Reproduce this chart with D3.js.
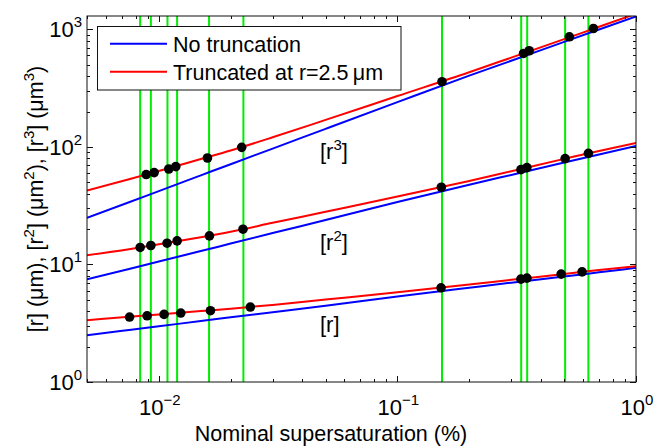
<!DOCTYPE html>
<html>
<head>
<meta charset="utf-8">
<script src="https://cdn.jsdelivr.net/npm/d3@7"></script>
<style>
  html, body { margin: 0; padding: 0; background: #fff; }
  svg { display: block; }
  text { font-family: "Liberation Sans", Arial, Helvetica, sans-serif; fill: #000; }
</style>
</head>
<body>
<svg id="chart" width="654" height="446"></svg>
<script>
// ---------------- data ----------------
const xGrid = [0.005, 0.0075, 0.01, 0.015, 0.02, 0.03, 0.05, 0.1, 0.2, 0.3, 0.5, 0.7, 1.0];
const r3Full      = [24.9, 33.8, 42.1, 57.3, 71.3, 96.8, 142.6, 240.7, 404, 541, 783, 998, 1288];
const r3Truncated = [42.5, 53.0, 62.4, 78.9, 93.2, 120.7, 169.8, 271, 432, 575, 826, 1052, 1358];
const r2Full      = [7.47, 9.16, 10.6, 13.0, 15.06, 18.5, 23.9, 34.0, 47.7, 57.8, 73.6, 86.2, 101.8];
const r2Truncated = [11.97, 13.5, 14.85, 17.06, 19.0, 22.6, 28.1, 37.8, 51.4, 62.2, 79.1, 92.5, 108.0];
const r1Full      = [2.50, 2.77, 2.98, 3.30, 3.55, 3.93, 4.46, 5.34, 6.34, 7.00, 7.89, 8.57, 9.36];
const r1Truncated = [3.36, 3.59, 3.76, 4.01, 4.20, 4.53, 5.03, 5.80, 6.74, 7.40, 8.30, 8.98, 9.68];

const greenX = [0.00835, 0.00926, 0.01087, 0.01193, 0.01624, 0.02262, 0.1538, 0.3302, 0.3499, 0.5046, 0.6316];

const r3DotX = [0.00885, 0.00956, 0.01101, 0.01178, 0.01599, 0.02225, 0.1538, 0.3377, 0.3567, 0.5259, 0.6628];
const r3DotY = [58.2, 60.5, 64.9, 68.0, 80.5, 99.2, 358.7, 624, 658, 865, 1018];
const r2DotX = [0.00835, 0.00926, 0.01083, 0.01193, 0.0163, 0.02253, 0.1528, 0.3293, 0.3489, 0.5046, 0.6316];
const r2DotY = [13.95, 14.5, 15.17, 15.87, 17.5, 19.95, 45.4, 64.1, 66.7, 79.5, 88.2];
const r1DotX = [0.00754, 0.00893, 0.01052, 0.01236, 0.01646, 0.02419, 0.1524, 0.3293, 0.3489, 0.4856, 0.5943];
const r1DotY = [3.57, 3.66, 3.76, 3.86, 4.04, 4.34, 6.33, 7.50, 7.65, 8.27, 8.65];

const xTickExps = [-2, -1, 0];
const yTickExps = [0, 1, 2, 3];
const legendLabels = ["No truncation", "Truncated at r=2.5\u2009\u03bcm"];
const xTitle = "Nominal supersaturation (%)";

// ---------------- layout ----------------
const L = 87, R = 636, T = 16, B = 382;
const svg = d3.select("#chart");
const x = d3.scaleLog().domain([0.005, 1]).range([L, R]);
const y = d3.scaleLog().domain([1, 1300]).range([B, T]);

const BLUE = "#0000ff", RED = "#ff0000", GREEN = "#00ee00";

svg.append("defs").append("clipPath").attr("id", "clip")
  .append("rect").attr("x", L).attr("y", T).attr("width", R - L).attr("height", B - T);

const plot = svg.append("g").attr("clip-path", "url(#clip)");

// green vertical lines
plot.selectAll("line.g").data(greenX).enter().append("line")
  .attr("x1", d => x(d)).attr("x2", d => x(d))
  .attr("y1", T).attr("y2", B)
  .attr("stroke", GREEN).attr("stroke-width", 2);

// curves
const line = d3.line().x(d => x(d[0])).y(d => y(d[1])).curve(d3.curveMonotoneX);
const series = [
  [r3Full, BLUE], [r3Truncated, RED],
  [r2Full, BLUE], [r2Truncated, RED],
  [r1Full, BLUE], [r1Truncated, RED]
];
series.forEach(([vals, col]) => {
  plot.append("path")
    .attr("d", line(xGrid.map((xv, i) => [xv, vals[i]])))
    .attr("fill", "none").attr("stroke", col).attr("stroke-width", 2);
});

// dots
[[r3DotX, r3DotY], [r2DotX, r2DotY], [r1DotX, r1DotY]].forEach(([xs, ys]) => {
  plot.selectAll(null).data(xs.map((xv, i) => [xv, ys[i]])).enter().append("circle")
    .attr("cx", d => x(d[0])).attr("cy", d => y(d[1])).attr("r", 4.8).attr("fill", "#000");
});

// frame
svg.append("rect").attr("x", L).attr("y", T).attr("width", R - L).attr("height", B - T)
  .attr("fill", "none").attr("stroke", "#111").attr("stroke-width", 1);

// ticks
const majLen = 6, minLen = 3;
const xTicksAll = [];
for (let e = -3; e <= 0; e++) for (let m = 1; m <= 9; m++) {
  const v = m * Math.pow(10, e);
  if (v >= 0.005 - 1e-9 && v <= 1 + 1e-9) xTicksAll.push({ v, major: m === 1 });
}
const yTicksAll = [];
for (let e = 0; e <= 3; e++) for (let m = 1; m <= 9; m++) {
  const v = m * Math.pow(10, e);
  if (v <= 1300) yTicksAll.push({ v, major: m === 1 });
}
const tk = svg.append("g").attr("stroke", "#111").attr("stroke-width", 1);
xTicksAll.forEach(t => {
  const px = Math.round(x(t.v)) + 0.5, len = t.major ? majLen : minLen;
  tk.append("line").attr("x1", px).attr("x2", px).attr("y1", B).attr("y2", B - len);
  tk.append("line").attr("x1", px).attr("x2", px).attr("y1", T).attr("y2", T + len);
});
yTicksAll.forEach(t => {
  const py = Math.round(y(t.v)) + 0.5, len = t.major ? majLen : minLen;
  tk.append("line").attr("x1", L).attr("x2", L + len).attr("y1", py).attr("y2", py);
  tk.append("line").attr("x1", R).attr("x2", R - len).attr("y1", py).attr("y2", py);
});

// tick labels
function powLabel(g, e) {
  g.append("tspan").text("10");
  g.append("tspan").attr("font-size", 15).attr("dy", -10).text(e < 0 ? "\u2212" + (-e) : String(e));
}
xTickExps.forEach(e => {
  const t = svg.append("text").attr("x", x(Math.pow(10, e)) + 1).attr("y", 415)
    .attr("text-anchor", "middle").attr("font-size", 22);
  powLabel(t, e);
});
yTickExps.forEach(e => {
  const t = svg.append("text").attr("x", 82).attr("y", y(Math.pow(10, e)) + 8)
    .attr("text-anchor", "end").attr("font-size", 22);
  powLabel(t, e);
});

// axis titles
svg.append("text").attr("x", 331).attr("y", 441).attr("text-anchor", "middle")
  .attr("font-size", 21.5).text(xTitle);

const yt = svg.append("text").attr("transform", "translate(34," + ((T + B) / 2) + ") rotate(-90)")
  .attr("text-anchor", "middle").attr("font-size", 21.5);
const yParts = [["[r] (\u03bcm), [r", null], ["2", "sup"], ["] (\u03bcm", null], ["2", "sup"], ["), [r", null], ["3", "sup"], ["] (\u03bcm", null], ["3", "sup"], [")", null]];
yParts.forEach(([s, k]) => {
  if (k === "sup") yt.append("tspan").attr("font-size", 15).attr("dy", -9).text(s);
  else yt.append("tspan").attr("dy", yt.selectAll("tspan").size() ? 9 : 0).text(s);
});

// annotations
function annot(yb, sup) {
  const t = svg.append("text").attr("x", 320).attr("y", yb).attr("font-size", 22);
  t.append("tspan").text("[r");
  if (sup) {
    t.append("tspan").attr("font-size", 15).attr("dy", -9).text(sup);
    t.append("tspan").attr("dy", 9).text("]");
  } else t.append("tspan").text("]");
}
annot(158.5, "3");
annot(250, "2");
annot(332, null);

// legend
const lg = svg.append("g");
lg.append("rect").attr("x", 97.5).attr("y", 26.5).attr("width", 303.5).attr("height", 63.5)
  .attr("fill", "#fff").attr("stroke", "#111").attr("stroke-width", 1);
[[BLUE, 43.7, 51.5], [RED, 71.7, 80]].forEach(([c, ly, ty], i) => {
  lg.append("line").attr("x1", 110).attr("x2", 167).attr("y1", ly).attr("y2", ly)
    .attr("stroke", c).attr("stroke-width", 2);
  lg.append("text").attr("x", 173).attr("y", ty).attr("font-size", 21.5).text(legendLabels[i]);
});
</script>
</body>
</html>
